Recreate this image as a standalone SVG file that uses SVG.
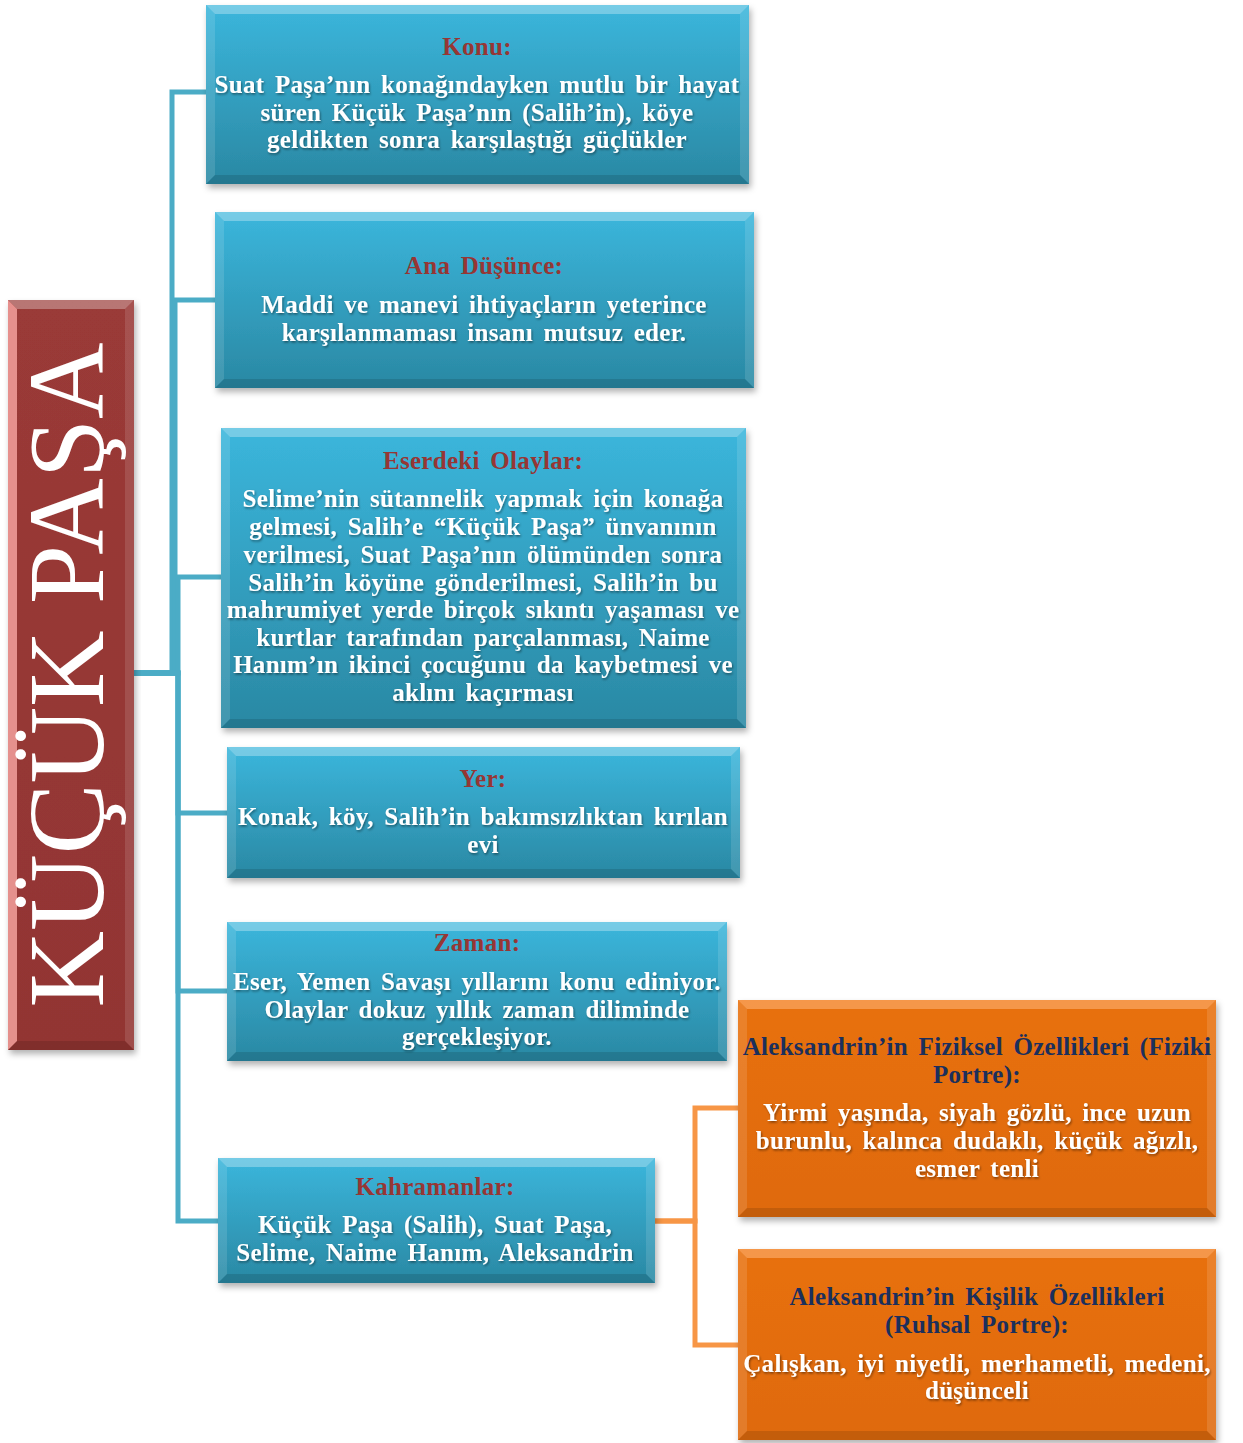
<svg xmlns="http://www.w3.org/2000/svg" width="1243" height="1443" viewBox="0 0 1243 1443">
<defs>
<linearGradient id="gBlue" x1="0" y1="0" x2="0" y2="1">
<stop offset="0" stop-color="#3bb6dc"/>
<stop offset="1" stop-color="#2a88a3"/>
</linearGradient>
<linearGradient id="gOrange" x1="0" y1="0" x2="0" y2="1">
<stop offset="0" stop-color="#e8700c"/>
<stop offset="1" stop-color="#df6a0a"/>
</linearGradient>
<linearGradient id="gRed" x1="0" y1="0" x2="0" y2="1">
<stop offset="0" stop-color="#9a3a37"/>
<stop offset="1" stop-color="#923533"/>
</linearGradient>
<filter id="shadow" x="-5%" y="-5%" width="110%" height="115%">
<feDropShadow dx="2" dy="4" stdDeviation="3" flood-color="#000" flood-opacity="0.3"/>
</filter>
<filter id="tshadow" x="-5%" y="-20%" width="110%" height="150%">
<feDropShadow dx="1" dy="1.5" stdDeviation="0.8" flood-color="#000" flood-opacity="0.45"/>
</filter>
</defs>
<style>
.blue{fill:url(#gBlue)}
.orange{fill:url(#gOrange)}
.red{fill:url(#gRed)}
.bt{fill:#ffffff;fill-opacity:0.3}
.bl{fill:#ffffff;fill-opacity:0.12}
.br{fill:#ffffff;fill-opacity:0.12}
.bb{fill:#000000;fill-opacity:0.12}
.bto{fill:#f7a15a;fill-opacity:0.8}
.blr{fill:#f3a09c;fill-opacity:0.85}
text{font-family:"Liberation Serif","Times New Roman",serif;font-weight:bold;font-size:25px;text-anchor:middle;word-spacing:4px;letter-spacing:0.3px}
.t{fill:#963634}
.w{fill:#ffffff;filter:url(#tshadow)}
.n{fill:#1b2f5c}
.big{font-weight:normal;font-size:108px;fill:#ffffff;word-spacing:0;letter-spacing:0}
.cb{fill:none;stroke:#4bacc6;stroke-width:5}
.co{fill:none;stroke:#f79646;stroke-width:5}
</style>

<g id="connectors">
<polyline class="cb" points="134,673 172,673 172,92 207,92"/>
<polyline class="cb" points="134,673 175,673 175,300 216,300"/>
<polyline class="cb" points="134,673 178,673 178,577 222,577"/>
<polyline class="cb" points="134,673 178,673 178,813 228,813"/>
<polyline class="cb" points="134,673 178,673 178,991 228,991"/>
<polyline class="cb" points="134,673 178,673 178,1221 219,1221"/>
<polyline class="co" points="655,1221 695,1221 695,1108 739,1108"/>
<polyline class="co" points="655,1221 695,1221 695,1345 739,1345"/>
</g>

<g id="root">
<rect class="red" x="8" y="300" width="126" height="750" filter="url(#shadow)"/>
<polygon class="bt" points="8,300 134,300 125,309 17,309"/>
<polygon class="blr" points="8,300 17,309 17,1041 8,1050"/>
<polygon class="br" points="134,300 134,1050 125,1041 125,309"/>
<polygon class="bb" points="8,1050 134,1050 125,1041 17,1041"/>
<text class="big" transform="translate(103,675) rotate(-90)" x="0" y="0" textLength="665" lengthAdjust="spacingAndGlyphs">KÜÇÜK PAŞA</text>
</g>

<g id="konu">
<rect class="blue" x="206" y="5" width="543" height="179" filter="url(#shadow)"/>
<polygon class="bt" points="206,5 749,5 740,14 215,14"/>
<polygon class="bl" points="206,5 215,14 215,175 206,184"/>
<polygon class="br" points="749,5 749,184 740,175 740,14"/>
<polygon class="bb" points="206,184 749,184 740,175 215,175"/>
<text class="t" x="477" y="55">Konu:</text>
<text class="w" x="477" y="93">Suat Paşa’nın konağındayken mutlu bir  hayat</text>
<text class="w" x="477" y="121">süren Küçük Paşa’nın (Salih’in), köye</text>
<text class="w" x="477" y="148">geldikten sonra karşılaştığı güçlükler</text>
</g>

<g id="ana-dusunce">
<rect class="blue" x="215" y="212" width="539" height="176" filter="url(#shadow)"/>
<polygon class="bt" points="215,212 754,212 745,221 224,221"/>
<polygon class="bl" points="215,212 224,221 224,379 215,388"/>
<polygon class="br" points="754,212 754,388 745,379 745,221"/>
<polygon class="bb" points="215,388 754,388 745,379 224,379"/>
<text class="t" x="484" y="274">Ana Düşünce:</text>
<text class="w" x="484" y="313">Maddi ve manevi ihtiyaçların yeterince</text>
<text class="w" x="484" y="341">karşılanmaması insanı mutsuz eder.</text>
</g>

<g id="eserdeki-olaylar">
<rect class="blue" x="221" y="428" width="525" height="300" filter="url(#shadow)"/>
<polygon class="bt" points="221,428 746,428 737,437 230,437"/>
<polygon class="bl" points="221,428 230,437 230,719 221,728"/>
<polygon class="br" points="746,428 746,728 737,719 737,437"/>
<polygon class="bb" points="221,728 746,728 737,719 230,719"/>
<text class="t" x="483" y="469">Eserdeki Olaylar:</text>
<text class="w" x="483" y="507">Selime’nin sütannelik yapmak için konağa</text>
<text class="w" x="483" y="535">gelmesi, Salih’e “Küçük Paşa” ünvanının</text>
<text class="w" x="483" y="563">verilmesi, Suat Paşa’nın ölümünden sonra</text>
<text class="w" x="483" y="591">Salih’in köyüne gönderilmesi, Salih’in bu</text>
<text class="w" x="483" y="618">mahrumiyet yerde birçok sıkıntı yaşaması ve</text>
<text class="w" x="483" y="646">kurtlar tarafından parçalanması, Naime</text>
<text class="w" x="483" y="673">Hanım’ın ikinci çocuğunu da kaybetmesi ve</text>
<text class="w" x="483" y="701">aklını kaçırması</text>
</g>

<g id="yer">
<rect class="blue" x="227" y="747" width="513" height="131" filter="url(#shadow)"/>
<polygon class="bt" points="227,747 740,747 731,756 236,756"/>
<polygon class="bl" points="227,747 236,756 236,869 227,878"/>
<polygon class="br" points="740,747 740,878 731,869 731,756"/>
<polygon class="bb" points="227,878 740,878 731,869 236,869"/>
<text class="t" x="483" y="787">Yer:</text>
<text class="w" x="483" y="825">Konak, köy, Salih’in bakımsızlıktan kırılan</text>
<text class="w" x="483" y="853">evi</text>
</g>

<g id="zaman">
<rect class="blue" x="227" y="922" width="500" height="139" filter="url(#shadow)"/>
<polygon class="bt" points="227,922 727,922 718,931 236,931"/>
<polygon class="bl" points="227,922 236,931 236,1052 227,1061"/>
<polygon class="br" points="727,922 727,1061 718,1052 718,931"/>
<polygon class="bb" points="227,1061 727,1061 718,1052 236,1052"/>
<text class="t" x="477" y="951">Zaman:</text>
<text class="w" x="477" y="990">Eser, Yemen Savaşı yıllarını konu ediniyor.</text>
<text class="w" x="477" y="1018">Olaylar dokuz yıllık zaman diliminde</text>
<text class="w" x="477" y="1045">gerçekleşiyor.</text>
</g>

<g id="kahramanlar">
<rect class="blue" x="218" y="1158" width="437" height="125" filter="url(#shadow)"/>
<polygon class="bt" points="218,1158 655,1158 646,1167 227,1167"/>
<polygon class="bl" points="218,1158 227,1167 227,1274 218,1283"/>
<polygon class="br" points="655,1158 655,1283 646,1274 646,1167"/>
<polygon class="bb" points="218,1283 655,1283 646,1274 227,1274"/>
<text class="t" x="435" y="1195">Kahramanlar:</text>
<text class="w" x="435" y="1233">Küçük Paşa (Salih), Suat Paşa,</text>
<text class="w" x="435" y="1261">Selime, Naime Hanım, Aleksandrin</text>
</g>

<g id="fiziksel">
<rect class="orange" x="738" y="1000" width="478" height="217" filter="url(#shadow)"/>
<polygon class="bto" points="738,1000 1216,1000 1207,1009 747,1009"/>
<polygon class="bl" points="738,1000 747,1009 747,1208 738,1217"/>
<polygon class="br" points="1216,1000 1216,1217 1207,1208 1207,1009"/>
<polygon class="bb" points="738,1217 1216,1217 1207,1208 747,1208"/>
<text class="n" x="977" y="1055">Aleksandrin’in Fiziksel Özellikleri (Fiziki</text>
<text class="n" x="977" y="1083">Portre):</text>
<text class="w" x="977" y="1121">Yirmi yaşında, siyah gözlü, ince uzun</text>
<text class="w" x="977" y="1149">burunlu, kalınca dudaklı, küçük ağızlı,</text>
<text class="w" x="977" y="1177">esmer tenli</text>
</g>

<g id="kisilik">
<rect class="orange" x="738" y="1249" width="478" height="191" filter="url(#shadow)"/>
<polygon class="bto" points="738,1249 1216,1249 1207,1258 747,1258"/>
<polygon class="bl" points="738,1249 747,1258 747,1431 738,1440"/>
<polygon class="br" points="1216,1249 1216,1440 1207,1431 1207,1258"/>
<polygon class="bb" points="738,1440 1216,1440 1207,1431 747,1431"/>
<text class="n" x="977" y="1305">Aleksandrin’in Kişilik Özellikleri</text>
<text class="n" x="977" y="1333">(Ruhsal Portre):</text>
<text class="w" x="977" y="1372">Çalışkan, iyi niyetli, merhametli, medeni,</text>
<text class="w" x="977" y="1399">düşünceli</text>
</g>
</svg>
